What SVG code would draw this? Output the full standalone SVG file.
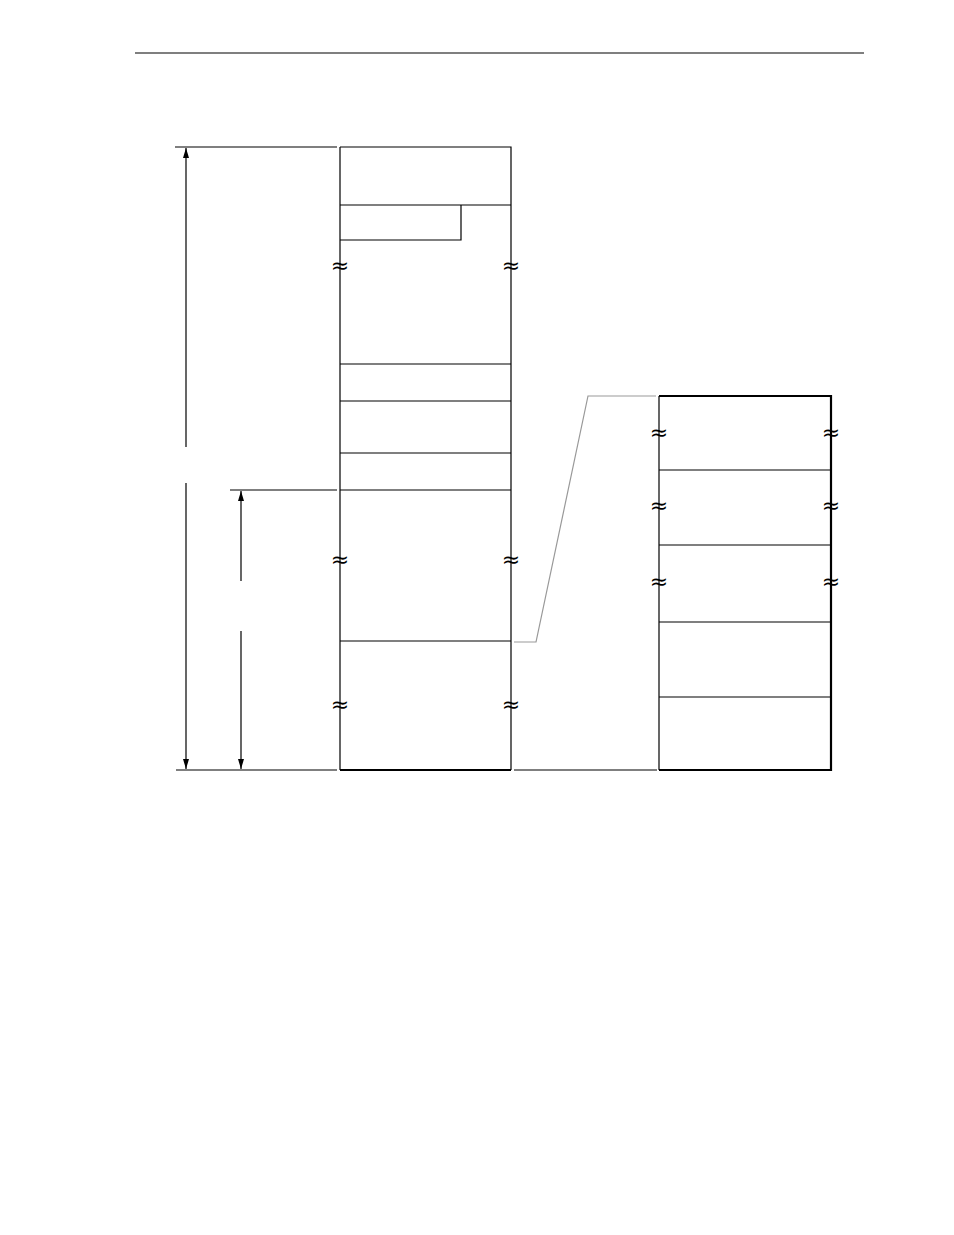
<svg xmlns="http://www.w3.org/2000/svg" width="954" height="1235" viewBox="0 0 954 1235">
<style>
.l{stroke:#000;stroke-width:1.2;fill:none}
.t{stroke:#000;stroke-width:2.2;fill:none}
.g{stroke:#999;stroke-width:1.2;fill:none}
.w{font-family:"DejaVu Sans",sans-serif;font-size:22px;text-anchor:middle;fill:#000}
</style>
<defs>
<marker id="ah" markerWidth="10" markerHeight="8" refX="0" refY="0" viewBox="-10 -4 10 8" orient="auto-start-reverse" markerUnits="userSpaceOnUse">
<path d="M0,0 L-10,-3 L-10,3 Z" fill="#000"/>
</marker>
</defs>
<rect width="954" height="1235" fill="#fff"/>
<line class="l" x1="135" y1="53" x2="864" y2="53"/>

<g id="left-column">
<path class="l" d="M340,147 H511 V770 M340,147 V770"/>
<line class="t" x1="340" y1="770" x2="511" y2="770"/>
<line class="l" x1="340" y1="205" x2="511" y2="205"/>
<path class="l" d="M340,240 H461 V205"/>
<line class="l" x1="340" y1="364" x2="511" y2="364"/>
<line class="l" x1="340" y1="401" x2="511" y2="401"/>
<line class="l" x1="340" y1="453" x2="511" y2="453"/>
<line class="l" x1="340" y1="490" x2="511" y2="490"/>
<line class="l" x1="340" y1="641" x2="511" y2="641"/>
<text class="w" x="340" y="273">≈</text>
<text class="w" x="511" y="273">≈</text>
<text class="w" x="340" y="567">≈</text>
<text class="w" x="511" y="567">≈</text>
<text class="w" x="340" y="712">≈</text>
<text class="w" x="511" y="712">≈</text>
</g>

<g id="right-column">
<line class="l" x1="659" y1="396" x2="659" y2="770"/>
<path class="t" d="M659,396 H831 V770 H659"/>
<line class="l" x1="659" y1="470" x2="831" y2="470"/>
<line class="l" x1="659" y1="545" x2="831" y2="545"/>
<line class="l" x1="659" y1="622" x2="831" y2="622"/>
<line class="l" x1="659" y1="697" x2="831" y2="697"/>
<text class="w" x="659" y="440">≈</text>
<text class="w" x="831" y="440">≈</text>
<text class="w" x="659" y="513">≈</text>
<text class="w" x="831" y="513">≈</text>
<text class="w" x="659" y="589">≈</text>
<text class="w" x="831" y="589">≈</text>
</g>

<g id="connectors">
<line class="l" x1="175" y1="147" x2="337" y2="147"/>
<line class="l" x1="230" y1="490" x2="337" y2="490"/>
<line class="l" x1="176" y1="770" x2="337" y2="770"/>
<line class="l" x1="514" y1="770" x2="657" y2="770"/>
<line class="l" x1="186" y1="148" x2="186" y2="447" marker-start="url(#ah)"/>
<line class="l" x1="186" y1="483" x2="186" y2="769" marker-end="url(#ah)"/>
<line class="l" x1="241" y1="491" x2="241" y2="581" marker-start="url(#ah)"/>
<line class="l" x1="241" y1="631" x2="241" y2="769" marker-end="url(#ah)"/>
<path class="g" d="M514,642 H536 L588,396 H656"/>
</g>
</svg>
